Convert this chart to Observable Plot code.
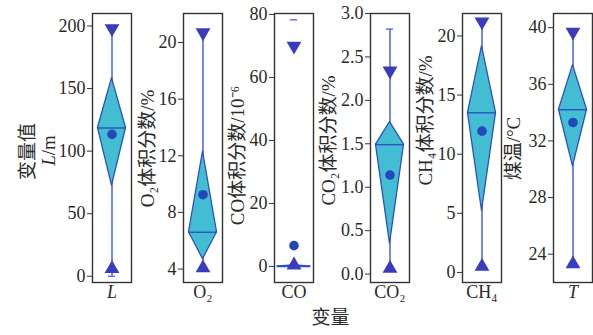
<!DOCTYPE html>
<html><head><meta charset="utf-8">
<script src="https://cdn.jsdelivr.net/npm/d3@7"></script>
<script src="https://cdn.jsdelivr.net/npm/@observablehq/plot@0.6"></script>
<style>
html,body{margin:0;padding:0;background:#fff;}
#chart{position:relative;width:593px;height:335px;overflow:hidden;}
#chart svg{position:absolute;top:0;overflow:visible;background:transparent;}
</style></head>
<body><div id="chart"></div>
<script>
// ---- data ----
const variables = ["L", "O₂", "CO", "CO₂", "CH₄", "T"];
const yTitles = ["L/m", "O₂体积分数/%", "CO体积分数/10⁻⁶", "CO₂体积分数/%", "CH₄体积分数/%", "煤温/°C"];
const q1 = [72.5, 4.7, 0, 0.35, 5.2, 30.2];
const median = [118.5, 6.6, 0, 1.49, 13.5, 34.2];
const q3 = [158.3, 12.3, 0.3, 1.75, 19.15, 37.35];
const mean = [113.4, 9.25, 6.6, 1.14, 11.95, 33.3];
const lowTri = [6, 4.07, 0.4, 0.065, 0.5, 23.3];
const highTri = [198, 20.7, 70, 2.34, 21.2, 39.7];
const whiskerLo = [0, 4.07, 0, 0.065, 0.5, 23.3];
const whiskerHi = [200, 20.8, 0.3, 2.82, 21.2, 39.7];
const capLo = [0, null, null, null, null, null];
const capHi = [200, null, 78.3, 2.82, null, null];
const tickValues = [
  [0, 50, 100, 150, 200],
  [4, 8, 12, 16, 20],
  [0, 20, 40, 60, 80],
  [0, 0.5, 1.0, 1.5, 2.0, 2.5, 3.0],
  [0, 5, 10, 15, 20],
  [24, 28, 32, 36, 40]
];
const tickFormats = [d3.format("d"), d3.format("d"), d3.format("d"), d3.format(".1f"), d3.format("d"), d3.format("d")];
const mainTitle = "变量值";
const xTitle = "变量";

// ---- layout ----
const layout = [
  {left: 0,   frameLeft: 92,  frameWidth: 39, domain: [-5, 210],      titleX: 48},
  {left: 135, frameLeft: 183, frameWidth: 39, domain: [3.05, 22.05],  titleX: 147},
  {left: 226, frameLeft: 274, frameWidth: 39, domain: [-5.1, 80.3],   titleX: 237},
  {left: 318, frameLeft: 370, frameWidth: 39, domain: [-0.097, 3.0],  titleX: 328},
  {left: 414, frameLeft: 462, frameWidth: 39, domain: [-0.85, 21.9],  titleX: 425},
  {left: 505, frameLeft: 553, frameWidth: 39, domain: [22.0, 41.0],   titleX: 513}
];
const titleY = [150, 148, 155, 140, 120, 148];
const H = 335, MT = 13, MB = 53;
const frameMid = (MT + (H - MB)) / 2;

const C = {
  frame: "#333",
  fill: "#43bdd2",
  stroke: "#2f4fc4",
  whisker: "#4a62d6",
  tri: "#3a3cbc",
  mean: "#2447bb",
  text: "#2a2a2a"
};
const FONT = "'Liberation Serif', 'Noto Sans CJK SC', serif";
const TICK_FS = 18, TITLE_FS = 19, CAT_FS = 18;

const chart = document.getElementById("chart");

variables.forEach((v, i) => {
  const L = layout[i];
  const marginLeft = L.frameLeft - L.left;
  const width = marginLeft + L.frameWidth + 2;
  const w = i === 2 ? 0.85 : 0.72;
  const dia = [
    {y: q1[i], x1: 0, x2: 0},
    {y: median[i], x1: -w, x2: w},
    {y: q3[i], x1: 0, x2: 0}
  ];
  const marks = [
    Plot.ruleX([0], {y1: whiskerLo[i], y2: whiskerHi[i], stroke: C.whisker, strokeWidth: 1.5}),
    Plot.areaX(dia, {y: "y", x1: "x1", x2: "x2", fill: C.fill, stroke: C.stroke, strokeWidth: 1.3, curve: "linear"}),
    Plot.ruleY([median[i]], {x1: -w, x2: w, stroke: C.stroke, strokeWidth: 1.4}),
  ];
  if (capLo[i] != null) marks.push(Plot.ruleY([capLo[i]], {x1: -0.18, x2: 0.18, stroke: C.whisker, strokeWidth: 1.3}));
  if (capHi[i] != null) marks.push(Plot.ruleY([capHi[i]], {x1: -0.18, x2: 0.18, stroke: C.whisker, strokeWidth: 1.3}));
  marks.push(
    Plot.dot([lowTri[i]], {x: 0, y: d => d, symbol: "triangle", r: 5.5, fill: C.tri, stroke: "none"}),
    Plot.dot([highTri[i]], {x: 0, y: d => d, symbol: "triangle", rotate: 180, r: 5.5, fill: C.tri, stroke: "none"}),
    Plot.dot([mean[i]], {x: 0, y: d => d, r: 4.8, fill: C.mean, stroke: "none"}),
    Plot.frame({stroke: C.frame, strokeWidth: 1.4}),
    Plot.axisY({ticks: tickValues[i], tickFormat: tickFormats[i], tickSize: 5, tickPadding: 2, label: null, stroke: C.frame, fill: C.text, fontSize: TICK_FS}),
    Plot.text([yTitles[i]], {text: d => d, frameAnchor: "left", rotate: -90, textAnchor: "middle",
      dx: L.titleX - L.frameLeft, dy: titleY[i] - frameMid, fontSize: TITLE_FS, fill: C.text}),
    Plot.text([v], {text: d => d, frameAnchor: "bottom", dy: 15, fontSize: CAT_FS, fill: C.text,
      fontStyle: (v === "L" || v === "T") ? "italic" : "normal"})
  );
  if (i === 0) {
    marks.push(Plot.text([mainTitle], {text: d => d, frameAnchor: "left", rotate: -90, textAnchor: "middle",
      dx: 27 - L.frameLeft, dy: 151 - frameMid, fontSize: TITLE_FS, fill: C.text}));
  }
  if (i === 2) {
    marks.push(Plot.text([xTitle], {text: d => d, frameAnchor: "bottom", dx: 330 - (L.frameLeft + L.frameWidth / 2), dy: 41, fontSize: TITLE_FS, fill: C.text}));
  }
  const svg = Plot.plot({
    width, height: H, marginLeft, marginRight: 2, marginTop: MT, marginBottom: MB,
    x: {domain: [-1, 1], axis: null},
    y: {domain: L.domain, axis: null},
    style: {fontFamily: FONT, fontSize: "16px", color: C.text, background: "transparent", overflow: "visible"},
    marks
  });
  svg.style.left = L.left + "px";
  // italic L in "L/m"
  d3.select(svg).selectAll("text").filter(function () { return this.textContent === "L/m"; })
    .each(function () {
      const t = d3.select(this);
      t.text(null);
      t.append("tspan").attr("font-style", "italic").text("L");
      t.append("tspan").text("/m");
    });
  chart.appendChild(svg);
});
</script></body></html>
